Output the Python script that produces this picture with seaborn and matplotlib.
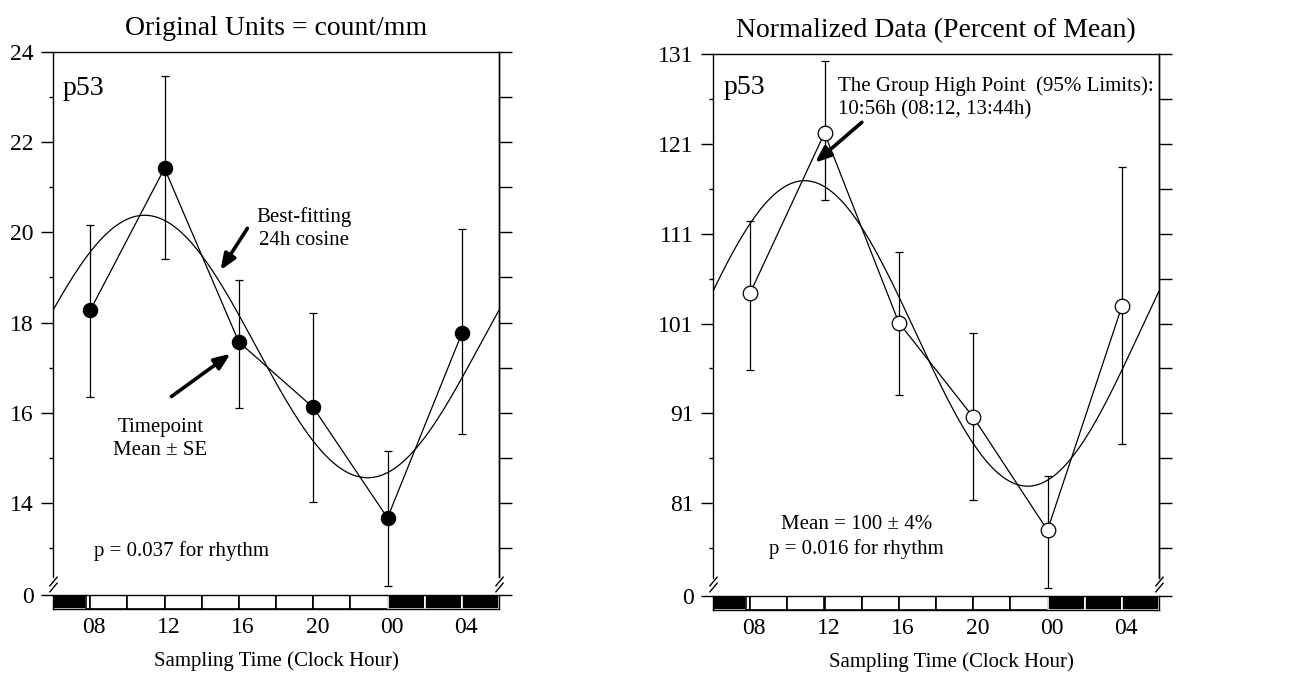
import matplotlib
matplotlib.use('Agg')
import matplotlib.pyplot as plt
import matplotlib.transforms as mtrans
import numpy as np
import pandas as pd
import seaborn as sns

# sampling times (clock hour, 24 = midnight) and their tick labels
hours = [8, 12, 16, 20, 24, 28]
hour_labels = ['08', '12', '16', '20', '00', '04']

# original units (count/mm): mean and SE limits
raw_mean = [18.27, 21.42, 17.57, 16.12, 13.67, 17.76]
raw_lo = [16.35, 19.42, 16.11, 14.03, 12.16, 15.53]
raw_hi = [20.16, 23.46, 18.94, 18.21, 15.16, 20.08]

# normalized data (percent of mean)
pct_mean = [104.4, 122.2, 101.1, 90.6, 78.0, 102.9]
pct_lo = [95.8, 114.7, 93.0, 81.4, 71.6, 87.6]
pct_hi = [112.4, 130.2, 109.0, 100.0, 84.0, 118.4]

# best-fitting 24h cosine: mesor, amplitude, acrophase (h)
raw_cos = [17.47, 2.91, 10.93]
pct_cos = [99.9, 17.0, 10.93]

# light/dark schedule bar
ld_start = [6, 7.75, 8, 10, 12, 14, 16, 18, 20, 22, 24, 26, 28]
ld_end = [7.75, 8, 10, 12, 14, 16, 18, 20, 22, 24, 26, 28, 30]
ld_dark = [True, False, False, False, False, False, False, False, False, False, True, True, True]

sns.set_theme(style='ticks')
plt.rcParams['font.family'] = ['Liberation Serif', 'DejaVu Serif']
plt.rcParams.update({'axes.linewidth': 1.0, 'text.color': 'black', 'axes.labelcolor': 'black',
                     'xtick.color': 'black', 'ytick.color': 'black', 'axes.edgecolor': 'black'})

W, H = 1291, 677
fig = plt.figure(figsize=(W / 100, H / 100), dpi=100)

ARROW = dict(arrowstyle='-|>,head_length=0.8,head_width=0.32', lw=2.6, color='black',
             shrinkA=0, shrinkB=0)


def fx(px):
    return px / W


def fy(px):
    return 1 - px / H


def cosine(params, t):
    m, a, phi = params
    return m + a * np.cos(2 * np.pi * (t - phi) / 24)


def panel(left, right, top, zero, strip_bot, ylim_top, ylim_bot, spine_bot,
          major, minor, right_ticks, mean, lo, hi, cos_par, filled,
          title, xlabel_x):
    ax = fig.add_axes([fx(left), fy(zero), fx(right - left), (zero - top) / H])
    strip = fig.add_axes([fx(left), fy(strip_bot), fx(right - left), (strip_bot - zero) / H])

    t = np.linspace(6, 30, 400)
    curve = pd.DataFrame({'t': t, 'y': cosine(cos_par, t)})
    sns.lineplot(data=curve, x='t', y='y', ax=ax, color='black', lw=0.9, zorder=2)

    pts = pd.DataFrame({'t': hours, 'y': mean})
    sns.lineplot(data=pts, x='t', y='y', ax=ax, color='black', lw=0.9, zorder=3)
    yerr = [np.array(mean) - np.array(lo), np.array(hi) - np.array(mean)]
    ax.errorbar(hours, mean, yerr=yerr, fmt='none', ecolor='black', elinewidth=0.9,
                capsize=2.6, capthick=0.9, zorder=3)
    sns.scatterplot(data=pts, x='t', y='y', ax=ax, s=105 if filled else 110,
                    color='black' if filled else 'white', edgecolor='black',
                    linewidth=0.9, zorder=5)

    ax.set_xlim(6, 30)
    ax.set_ylim(ylim_bot, ylim_top)
    ax.set_xticks([])
    ax.set_xlabel('')
    ax.set_ylabel('')
    ax.spines['bottom'].set_visible(False)
    ax.spines['left'].set_bounds(spine_bot, ylim_top)
    ax.spines['right'].set_bounds(spine_bot, ylim_top)
    ax.set_yticks(major)
    ax.set_yticklabels([str(v) for v in major])
    ax.set_yticks(minor, minor=True)
    ax.tick_params(axis='y', which='major', length=9, width=1, labelsize=17, pad=5)
    ax.tick_params(axis='y', which='minor', length=3, width=1)

    ax2 = ax.twinx()
    ax2.set_ylim(ylim_bot, ylim_top)
    ax2.set_yticks(right_ticks)
    ax2.set_yticklabels([])
    ax2.tick_params(axis='y', length=9, width=1)
    for s in ['top', 'bottom', 'left']:
        ax2.spines[s].set_visible(False)
    ax2.spines['right'].set_bounds(spine_bot, ylim_top)

    # axis break marks
    tr = ax.get_yaxis_transform()
    span = ylim_top - ylim_bot
    for xa in (0, 1):
        for yy in (spine_bot - 0.006 * span, spine_bot - 0.017 * span):
            ax.plot([xa], [yy], transform=tr, marker=[(-1, -1.2), (1, 1.2)], markersize=7,
                    mew=1, color='black', clip_on=False, ls='none')

    # light/dark bar
    for s0, s1, dk in zip(ld_start, ld_end, ld_dark):
        strip.bar(s0, 1, width=s1 - s0, align='edge', color='black' if dk else 'white',
                  edgecolor='white' if dk else 'black', linewidth=1.2)
    strip.set_xlim(6, 30)
    strip.set_ylim(0, 1)
    strip.set_yticks([1])
    strip.set_yticklabels(['0'])
    strip.tick_params(axis='y', length=9, width=1, labelsize=17, pad=5, right=True)
    strip.set_xticks(hours)
    strip.set_xticklabels(hour_labels)
    strip.tick_params(axis='x', length=0, labelsize=17, pad=6)
    shift = mtrans.ScaledTranslation(3 / 72, 0, fig.dpi_scale_trans)
    for lbl in strip.get_xticklabels():
        lbl.set_transform(lbl.get_transform() + shift)
    for s in strip.spines.values():
        s.set_color('black')
    strip.set_xlabel('Sampling Time (Clock Hour)', fontsize=15)
    strip.xaxis.set_label_coords(xlabel_x, -3.0)

    ax.set_title(title, fontsize=20, pad=12)
    return ax


axL = panel(53, 499, 52, 595, 609, 24, 11.96, 12.35,
            [14, 16, 18, 20, 22, 24], [13, 15, 17, 19, 21, 23], list(range(13, 25)),
            raw_mean, raw_lo, raw_hi, raw_cos, True,
            'Original Units = count/mm', 0.5)

axR = panel(713, 1159, 54, 596, 610, 131, 70.68, 72.7,
            [81, 91, 101, 111, 121, 131], [76, 86, 96, 106, 116, 126], list(range(76, 132, 5)),
            pct_mean, pct_lo, pct_hi, pct_cos, False,
            'Normalized Data (Percent of Mean)', 0.535)

# left panel annotations
axL.text(6.54, 23.04, 'p53', fontsize=20, va='baseline')
axL.text(19.48, 20.08, 'Best-fitting\n24h cosine', fontsize=15, ha='center', va='center',
         linespacing=1.25)
axL.annotate('', xy=(15.01, 19.16), xytext=(16.46, 20.09), arrowprops=ARROW)
axL.text(11.77, 15.42, 'Timepoint\nMean ± SE', fontsize=15, ha='center', va='center',
         linespacing=1.25)
axL.annotate('', xy=(15.55, 17.31), xytext=(12.37, 16.36), arrowprops=ARROW)
axL.text(12.91, 12.93, 'p = 0.037 for rhythm', fontsize=15, ha='center', va='center')

# right panel annotations
axR.text(6.55, 126.6, 'p53', fontsize=20, va='baseline')
axR.text(12.72, 126.1, 'The Group High Point  (95% Limits):\n10:56h (08:12, 13:44h)', fontsize=15,
         ha='left', va='center', linespacing=1.3)
axR.annotate('', xy=(11.49, 118.9), xytext=(14.01, 123.4), arrowprops=ARROW)
axR.text(13.73, 77.2, 'Mean = 100 ± 4%\np = 0.016 for rhythm', fontsize=15, ha='center', va='center',
         linespacing=1.35)

fig.savefig('out.png', dpi=100)
